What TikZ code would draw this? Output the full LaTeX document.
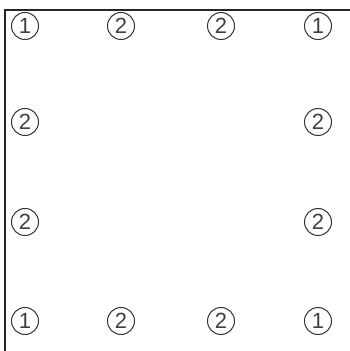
\documentclass[tikz,border=0pt]{standalone}
\usepackage{fontspec}
\setmainfont{Liberation Sans}
\begin{document}
\begin{tikzpicture}[x=1pt, y=1pt,
    mark1/.style={circle, draw=black!80, line width=1pt, minimum size=27pt, inner sep=0pt,
      font=\fontsize{22}{22}\selectfont, text=black!75}]
  \useasboundingbox (0,0) rectangle (350,351);
  % Frame
  \draw[black!85, line width=1.3pt] (5,0) -- (5,341) -- (350,341);
  % Circled numbers
  \foreach \r/\y in {1/325, 2/229, 3/129, 4/30} {
    \foreach \c/\x in {1/25, 2/121, 3/221, 4/318} {
      \pgfmathtruncatemacro{\corner}{(\r==1 || \r==4) && (\c==1 || \c==4) ? 1 : 2}
      \pgfmathtruncatemacro{\inner}{(\r==2 || \r==3) && (\c==2 || \c==3) ? 1 : 0}
      \ifnum\inner=0
        \node[mark1] (n\r\c) at (\x,\y) {\corner};
      \fi
    }
  }
\end{tikzpicture}
\end{document}
